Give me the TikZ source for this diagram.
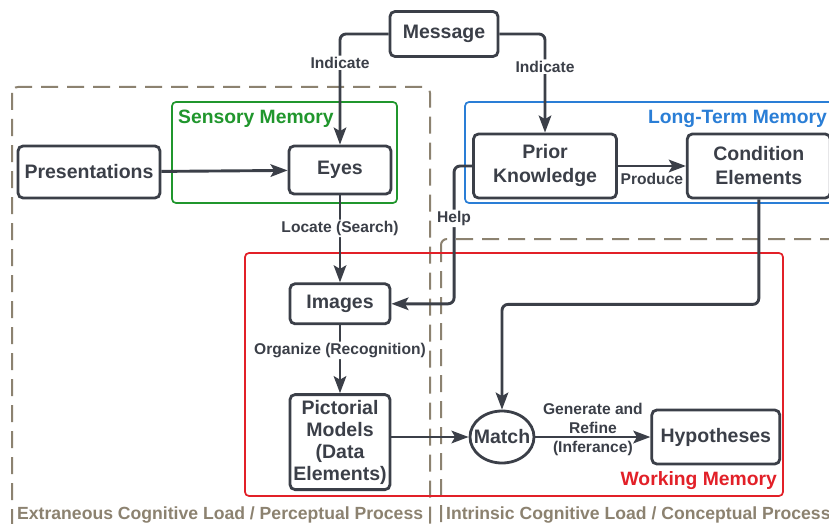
\documentclass[tikz,border=0pt]{standalone}
\usepackage{fontspec}
\setmainfont{Liberation Sans}
\usetikzlibrary{
  positioning,
  arrows.meta,
  shapes.geometric
}
\definecolor{ink}{RGB}{59,63,72}
\definecolor{loadtan}{RGB}{140,130,112}
\definecolor{sensgreen}{RGB}{32,150,45}
\definecolor{ltmblue}{RGB}{42,126,214}
\definecolor{wmred}{RGB}{226,32,40}
\tikzset{
  >={Stealth[length=17pt, width=12.5pt, inset=3.5pt]},
  node distance=68pt,
  block/.style={draw=ink, fill=white, line width=2.8pt, rounded corners=5pt,
    align=center, text=ink, inner sep=0pt,
    font=\bfseries\fontsize{19.5}{24}\selectfont},
  flow/.style={->, draw=ink, line width=2.9pt, rounded corners=6pt},
  tag/.style={fill=white, text=ink, inner sep=1.5pt, align=center,
    font=\bfseries\fontsize{15.6}{19}\selectfont},
  memory/.style={line width=1.7pt, rounded corners=4pt},
  memtext/.style={inner sep=0pt, font=\bfseries\fontsize{19.3}{22}\selectfont},
  load/.style={draw=loadtan, line width=2pt, dash pattern=on 17pt off 9pt,
    rounded corners=6pt},
  loadtext/.style={text=loadtan, inner sep=0pt,
    font=\bfseries\fontsize{17.6}{20}\selectfont}
}

\begin{document}
\begin{tikzpicture}[x=1pt, y=-1pt]
    \clip (0,0) rectangle (829,524);
    \fill[white] (0,0) rectangle (829,524);

    % load areas
    \draw[load] (12,87) rectangle (430,570);
    \draw[load] (441,239) rectangle (900,570);
    \node[loadtext, anchor=west] (extlabel) at (17,515)
      {Extraneous Cognitive Load / Perceptual Process};
    \node[loadtext, anchor=west] (intlabel) at (446,515)
      {Intrinsic Cognitive Load / Conceptual Process};

    % memories
    \draw[memory, draw=sensgreen] (172,102) rectangle (397,203);
    \node[memtext, text=sensgreen, anchor=west] (sensory) at (178,119) {Sensory Memory};
    \draw[memory, draw=ltmblue] (465,102) rectangle (880,203);
    \node[memtext, text=ltmblue, anchor=east] (longterm) at (827,119) {Long-Term Memory};
    \draw[memory, draw=wmred] (245,253) rectangle (783,496);
    \node[memtext, text=wmred, anchor=east] (working) at (777,481) {Working Memory};

    % boxes
    \node[block, minimum width=108pt, minimum height=45pt] (msg) at (444,34) {Message};
    \node[block, minimum width=142pt, minimum height=52pt] (pres) at (89,172) {Presentations};
    \node[block, minimum width=102pt, minimum height=48pt] (eyes) at (340,170) {Eyes};
    \node[block, minimum width=100pt, minimum height=40pt, below=87pt of eyes] (img) {Images};
    \node[block, minimum width=100pt, minimum height=95pt, below=of img,
      font=\bfseries\fontsize{19.5}{22}\selectfont] (pict) {Pictorial\\Models\\(Data\\Elements)};
    \node[block, minimum width=143pt, minimum height=64pt] (prior) at (545,166) {Prior\\Knowledge};
    \node[block, minimum width=143pt, minimum height=64pt, right=of prior] (cond) {Condition\\Elements};
    \node[block, ellipse, rounded corners=0pt, minimum width=64pt, minimum height=52pt] (match)
      at (502,437) {\makebox[0pt]{Match}};
    \node[block, minimum width=128pt, minimum height=54pt, right=115pt of match] (hyp) {Hypotheses};

    % connectors
    \draw[flow] (msg.west) -| (eyes.north) node[tag, pos=0.63] {Indicate};
    \draw[flow] (msg.east) -| (prior.north) node[tag, pos=0.665] {Indicate};
    \draw[flow] (pres) -- (eyes);
    \draw[flow] (eyes) -- (img) node[tag, pos=0.38] {Locate (Search)};
    \draw[flow] (prior) -- (cond) node[tag, fill=none, midway, below=4pt] {Produce};
    \draw[flow] (prior.west) -- ++(-18,0) |- (img.east) node[tag, pos=0.19] {Help};
    \draw[flow] (img) -- (pict) node[tag, pos=0.37] {Organize (Recognition)};
    \draw[flow] (cond.south) -- ++(0,105) -| (match.north);
    \draw[flow] (pict.east |- match) -- (match);
    \draw[flow] (match) -- (hyp) node[tag, fill=none, midway, yshift=8pt]
      {Generate and\\Refine\\(Inferance)};
\end{tikzpicture}
\end{document}
